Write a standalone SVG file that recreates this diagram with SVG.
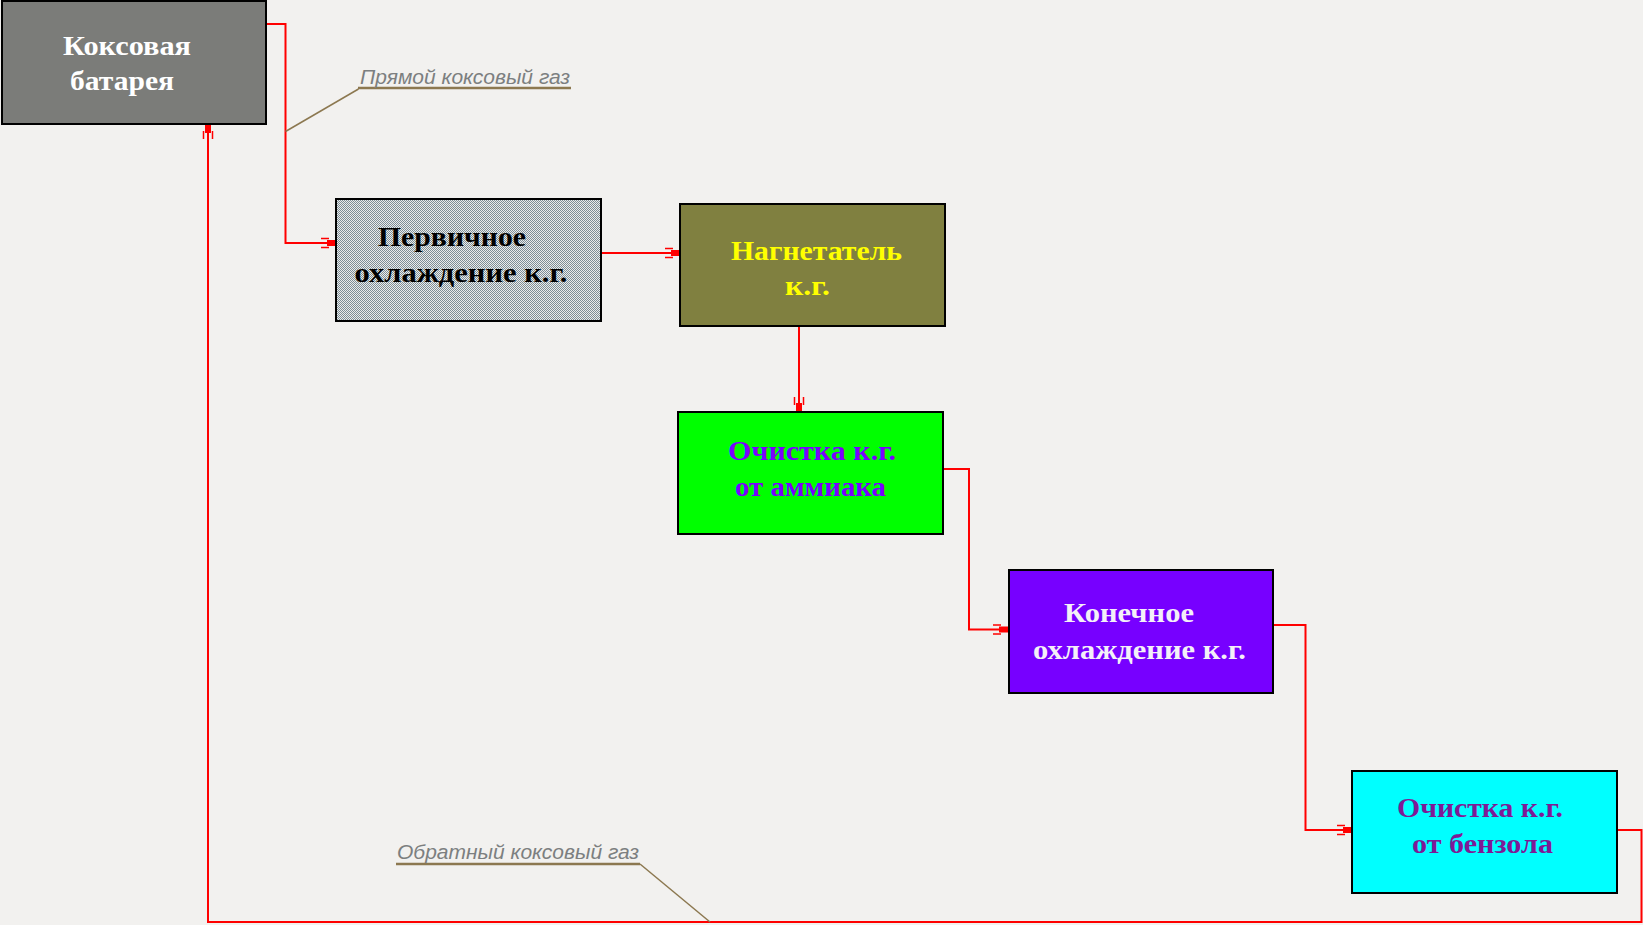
<svg xmlns="http://www.w3.org/2000/svg" width="1643" height="925" viewBox="0 0 1643 925">
<defs>
<style>
.box{stroke:#000;stroke-width:2}
.t{font-family:"Liberation Serif","Times New Roman",serif;font-weight:bold;font-size:28px}
.lbl{font-family:"Liberation Sans",Arial,sans-serif;font-style:italic;font-size:20px;fill:#7c7f80}
.conn{fill:none;stroke:#ff0000;stroke-width:2}
.lead{fill:none;stroke:#8c7850;stroke-width:1.5}
.ul{stroke:#8c7850;stroke-width:2.5}
</style>
<pattern id="chk" width="2" height="2" patternUnits="userSpaceOnUse">
<rect width="2" height="2" fill="#ececec"/>
<rect width="1" height="1" fill="#7d8e96"/>
<rect x="1" y="1" width="1" height="1" fill="#7d8e96"/>
</pattern>
<marker id="arr" markerUnits="userSpaceOnUse" markerWidth="16" markerHeight="16" viewBox="0 0 16 16" refX="15" refY="8" orient="auto">
<path d="M6,5 H15 V11 H6 Z" fill="#ff0000"/>
<path d="M0,3.5 H8 M0,12.5 H8" stroke="#ff0000" stroke-width="1.5"/>
</marker>
</defs>
<rect width="1643" height="925" fill="#f2f1ef"/>

<g id="connectors">
<polyline class="conn" points="266,24 285.5,24 285.5,243 336,243" marker-end="url(#arr)"/>
<polyline class="conn" points="601,253 680,253" marker-end="url(#arr)"/>
<polyline class="conn" points="799,326 799,412" marker-end="url(#arr)"/>
<polyline class="conn" points="943,469 969,469 969,629.5 1008,629.5" marker-end="url(#arr)"/>
<polyline class="conn" points="1273,625 1305.5,625 1305.5,830 1352,830" marker-end="url(#arr)"/>
<polyline class="conn" points="1617,830 1641.5,830 1641.5,922 208,922 208,124" marker-end="url(#arr)"/>
</g>

<g id="label-direct">
<polyline class="lead" points="285.5,131.5 358.5,89"/>
<line class="ul" x1="358" y1="88" x2="571" y2="88"/>
<text class="lbl" x="360" y="84" textLength="210" lengthAdjust="spacingAndGlyphs">Прямой коксовый газ</text>
</g>

<g id="label-return">
<polyline class="lead" points="640,864 710,922"/>
<line class="ul" x1="396" y1="864" x2="640" y2="864"/>
<text class="lbl" x="397" y="859" textLength="242" lengthAdjust="spacingAndGlyphs">Обратный коксовый газ</text>
</g>

<g id="battery">
<rect class="box" x="2" y="1" width="264" height="123" fill="#7b7c79"/>
<text class="t" fill="#ffffff" x="63" y="55" textLength="128" lengthAdjust="spacingAndGlyphs">Коксовая</text>
<text class="t" fill="#ffffff" x="70" y="90" textLength="104" lengthAdjust="spacingAndGlyphs">батарея</text>
</g>

<g id="primary-cooling">
<rect class="box" x="336" y="199" width="265" height="122" fill="url(#chk)"/>
<text class="t" fill="#000000" x="378" y="246" textLength="148" lengthAdjust="spacingAndGlyphs">Первичное</text>
<text class="t" fill="#000000" x="354.5" y="282" textLength="213" lengthAdjust="spacingAndGlyphs">охлаждение к.г.</text>
</g>

<g id="blower">
<rect class="box" x="680" y="204" width="265" height="122" fill="#808040"/>
<text class="t" fill="#ffff00" x="731" y="259.5" textLength="171" lengthAdjust="spacingAndGlyphs">Нагнетатель</text>
<text class="t" fill="#ffff00" x="785" y="295" textLength="45" lengthAdjust="spacingAndGlyphs">к.г.</text>
</g>

<g id="ammonia">
<rect class="box" x="678" y="412" width="265" height="122" fill="#00ff00"/>
<text class="t" fill="#7a00ff" x="728" y="460" textLength="168" lengthAdjust="spacingAndGlyphs">Очистка к.г.</text>
<text class="t" fill="#7a00ff" x="735" y="495.5" textLength="151" lengthAdjust="spacingAndGlyphs">от аммиака</text>
</g>

<g id="final-cooling">
<rect class="box" x="1009" y="570" width="264" height="123" fill="#7700ff"/>
<text class="t" fill="#f4f0f8" x="1064" y="622" textLength="130" lengthAdjust="spacingAndGlyphs">Конечное</text>
<text class="t" fill="#f4f0f8" x="1033" y="658.5" textLength="213" lengthAdjust="spacingAndGlyphs">охлаждение к.г.</text>
</g>

<g id="benzene">
<rect class="box" x="1352" y="771" width="265" height="122" fill="#00ffff"/>
<text class="t" fill="#7d1a96" x="1397" y="817" textLength="166" lengthAdjust="spacingAndGlyphs">Очистка к.г.</text>
<text class="t" fill="#7d1a96" x="1412" y="853" textLength="141" lengthAdjust="spacingAndGlyphs">от бензола</text>
</g>
</svg>
